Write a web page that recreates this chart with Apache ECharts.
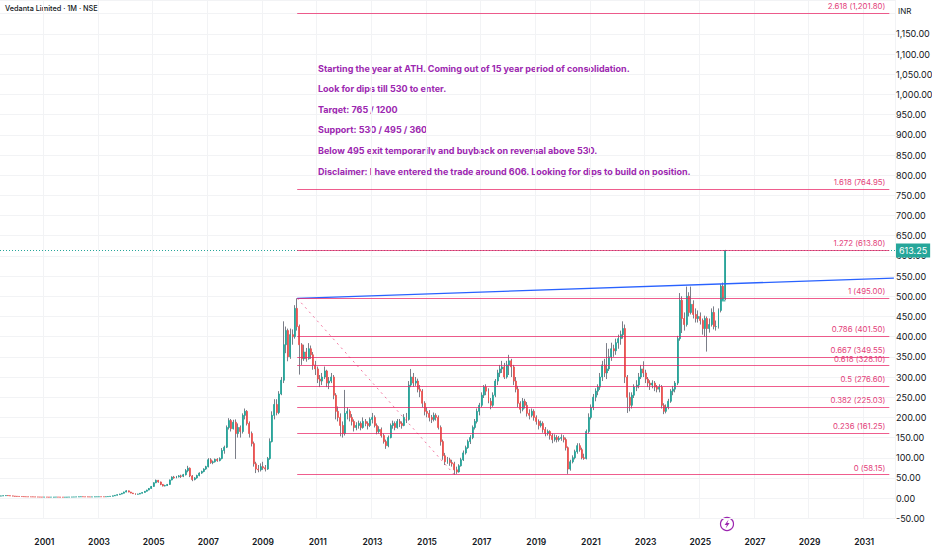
<!DOCTYPE html>
<html>
<head>
<meta charset="utf-8">
<title>Vedanta Limited · 1M · NSE</title>
<script src="https://cdn.jsdelivr.net/npm/echarts@6.0.0/dist/echarts.min.js"></script>
<style>
html, body { margin: 0; padding: 0; background: #ffffff; }
#chart { width: 932px; height: 550px; }
</style>
</head>
<body>
<div id="chart"></div>
<script>
"use strict";

// monthly candles, [open, close, low, high], first one is 1999-06
var firstMonth = [1999, 6];
var monthCount = 393; // axis runs to 2032-02
var candles = [
    // 1999 (Jun-Dec)
    [5, 5.5, 4.8, 6], [5.5, 6, 5.2, 6.5], [6, 6.5, 5.8, 7], [6.5, 6, 5.6, 7], [6, 5.5, 5.2, 6.2], [5.5, 5, 4.8, 5.8], [5, 4.5, 4.2, 5.2],
    // 2000
    [4.5, 4.2, 3.9, 4.8], [4.2, 4, 3.7, 4.5], [4, 3.8, 3.5, 4.3], [3.8, 3.5, 3.2, 4], [3.5, 3.4, 3.1, 3.8], [3.4, 3.2, 3, 3.6],
    [3.2, 3.1, 2.9, 3.4], [3.1, 3, 2.8, 3.3], [3, 2.8, 2.6, 3.2], [2.8, 2.7, 2.5, 3], [2.7, 2.6, 2.4, 2.9], [2.6, 2.5, 2.3, 2.8],
    // 2001
    [2.5, 2.6, 2.3, 2.8], [2.6, 2.5, 2.3, 2.8], [2.5, 2.4, 2.2, 2.7], [2.4, 2.4, 2.2, 2.6], [2.4, 2.5, 2.3, 2.7], [2.5, 2.6, 2.4, 2.8],
    [2.6, 2.5, 2.3, 2.7], [2.5, 2.4, 2.2, 2.6], [2.4, 2.2, 2, 2.5], [2.2, 2.4, 2.1, 2.5], [2.4, 2.5, 2.3, 2.7], [2.5, 2.6, 2.4, 2.8],
    // 2002
    [2.6, 2.7, 2.5, 2.9], [2.7, 2.8, 2.6, 3], [2.8, 3, 2.7, 3.2], [3, 3.3, 2.9, 3.5], [3.3, 3.6, 3.2, 3.9], [3.6, 3.3, 3.1, 3.8],
    [3.3, 3.1, 2.9, 3.4], [3.1, 3, 2.8, 3.3], [3, 2.9, 2.7, 3.2], [2.9, 3, 2.8, 3.2], [3, 3.2, 2.9, 3.4], [3.2, 3.4, 3.1, 3.6],
    // 2003
    [3.4, 3.5, 3.2, 3.8], [3.5, 3.4, 3.2, 3.7], [3.4, 3.3, 3.1, 3.6], [3.3, 3.6, 3.2, 3.8], [3.6, 4, 3.5, 4.3], [4, 4.6, 3.9, 4.9],
    [4.6, 5.6, 4.5, 6], [5.6, 7, 5.4, 7.5], [7, 8.5, 6.8, 9], [8.5, 10, 8.2, 10.8], [10, 12, 9.6, 12.8], [12, 15, 11.8, 16],
    // 2004
    [15, 18, 14.5, 19.5], [18, 15, 14.5, 18.5], [15, 12.5, 12, 15.5], [12.5, 11, 10.5, 13], [11, 9.5, 8.5, 11.5], [9.5, 10, 9, 10.8],
    [10, 12, 9.8, 12.5], [12, 14, 11.8, 14.5], [14, 17, 13.8, 17.5], [17, 20, 16.5, 20.8], [20, 24, 19.5, 25], [24, 29, 23.5, 30],
    // 2005
    [29, 38, 28, 39], [38, 44, 37, 46], [44, 40, 38, 45], [40, 34, 32, 41], [34, 30, 29, 35], [30, 31, 29, 33],
    [31, 34, 30, 35], [34, 45, 33, 46], [45, 52, 44, 54], [52, 50, 48, 55], [50, 53, 49, 55], [53, 55, 51, 57],
    // 2006
    [55, 54, 50, 58], [54, 58, 52, 60], [58, 68, 56, 72], [68, 74, 64, 80], [74, 55, 52, 76], [55, 46, 42, 57],
    [46, 50, 44, 52], [50, 56, 48, 58], [56, 62, 54, 64], [62, 66, 60, 68], [66, 72, 64, 74], [72, 78, 70, 80],
    // 2007
    [78, 95, 76, 99], [95, 88, 85, 99], [88, 90, 84, 93], [90, 96, 88, 98], [96, 93, 90, 99], [93, 98, 91, 101],
    [98, 118, 96, 124], [118, 126, 110, 130], [126, 175, 124, 180], [175, 192, 170, 198], [192, 172, 165, 196], [172, 188, 170, 194],
    // 2008
    [188, 160, 97, 195], [160, 175, 150, 185], [175, 165, 150, 180], [165, 205, 160, 210], [205, 215, 195, 222], [215, 185, 180, 218],
    [185, 160, 150, 190], [160, 135, 128, 165], [135, 85, 78, 140], [85, 72, 62, 90], [72, 70, 64, 82], [70, 78, 66, 86],
    // 2009
    [78, 75, 70, 90], [75, 72, 66, 82], [72, 98, 70, 102], [98, 140, 95, 148], [140, 205, 138, 215], [205, 232, 195, 245],
    [232, 212, 205, 245], [212, 258, 208, 265], [258, 292, 255, 300], [292, 380, 285, 438], [380, 415, 359, 425], [415, 350, 339, 420],
    // 2010
    [350, 405, 345, 420], [405, 400, 380, 418], [400, 470, 395, 478], [470, 425, 415, 495], [425, 380, 306, 430], [380, 345, 330, 384],
    [345, 362, 340, 380], [362, 345, 338, 372], [345, 370, 343, 384], [370, 355, 345, 378], [355, 330, 318, 362], [330, 320, 305, 340],
    // 2011
    [320, 295, 285, 326], [295, 290, 275, 305], [290, 300, 280, 310], [300, 315, 295, 326], [315, 285, 275, 318], [285, 290, 270, 300],
    [290, 300, 285, 310], [300, 255, 245, 305], [255, 215, 195, 260], [215, 200, 190, 227], [200, 180, 153, 210], [180, 160, 150, 190],
    // 2012
    [160, 210, 155, 268], [210, 215, 195, 225], [215, 200, 190, 220], [200, 190, 180, 208], [190, 175, 165, 195], [175, 180, 168, 188],
    [180, 185, 172, 192], [185, 175, 168, 190], [175, 190, 172, 200], [190, 185, 178, 196], [185, 180, 170, 190], [180, 195, 176, 200],
    // 2013
    [195, 200, 185, 211], [200, 180, 175, 205], [180, 165, 158, 185], [165, 170, 160, 178], [170, 155, 150, 175], [155, 140, 135, 160],
    [140, 130, 122, 145], [130, 150, 126, 155], [150, 180, 148, 185], [180, 185, 172, 192], [185, 175, 168, 190], [175, 190, 172, 196],
    // 2014
    [190, 185, 176, 196], [185, 180, 172, 190], [180, 200, 178, 208], [200, 195, 186, 211], [195, 280, 192, 290], [280, 300, 275, 320],
    [300, 285, 276, 310], [285, 290, 278, 300], [290, 270, 262, 296], [270, 265, 250, 280], [265, 235, 225, 270], [235, 215, 205, 240],
    // 2015
    [215, 210, 200, 225], [210, 200, 190, 218], [200, 195, 186, 206], [195, 205, 190, 212], [205, 200, 192, 210], [200, 175, 170, 205],
    [175, 140, 130, 180], [140, 105, 95, 145], [105, 90, 82, 112], [90, 95, 85, 102], [95, 88, 80, 100], [88, 85, 78, 95],
    // 2016
    [85, 70, 58.15, 90], [70, 65, 60, 78], [65, 80, 63, 84], [80, 95, 78, 100], [95, 112, 92, 118], [112, 125, 108, 130],
    [125, 140, 122, 145], [140, 150, 134, 156], [150, 175, 146, 180], [175, 190, 170, 196], [190, 215, 185, 222], [215, 230, 205, 236],
    // 2017
    [230, 255, 225, 262], [255, 275, 248, 280], [275, 265, 255, 282], [265, 240, 235, 272], [240, 230, 220, 248], [230, 255, 226, 262],
    [255, 290, 250, 295], [290, 310, 280, 318], [310, 320, 300, 330], [320, 325, 310, 340], [325, 300, 295, 335], [300, 330, 296, 340],
    // 2018
    [330, 340, 305, 355], [340, 325, 300, 345], [325, 290, 280, 330], [290, 270, 262, 300], [270, 235, 225, 278], [235, 220, 210, 240],
    [220, 240, 215, 248], [240, 230, 222, 246], [230, 210, 202, 238], [210, 205, 195, 220], [205, 215, 200, 222], [215, 200, 192, 220],
    // 2019
    [200, 190, 182, 205], [190, 180, 170, 195], [180, 185, 175, 192], [185, 170, 162, 190], [170, 160, 153, 176], [160, 165, 155, 170],
    [165, 155, 145, 168], [155, 145, 136, 160], [145, 150, 140, 158], [150, 145, 138, 156], [145, 148, 140, 154], [148, 150, 142, 158],
    // 2020
    [150, 145, 138, 156], [145, 125, 118, 150], [125, 72, 60, 128], [72, 90, 68, 95], [90, 100, 86, 106], [100, 115, 96, 120],
    [115, 130, 110, 136], [130, 120, 115, 136], [120, 100, 96, 125], [100, 98, 95, 110], [98, 165, 96, 170], [165, 200, 160, 210],
    // 2021
    [200, 225, 195, 232], [225, 250, 218, 258], [250, 265, 240, 272], [265, 275, 255, 282], [275, 300, 268, 310], [300, 330, 290, 340],
    [330, 310, 300, 345], [310, 320, 295, 384], [320, 350, 315, 370], [350, 370, 340, 385], [370, 365, 350, 380], [365, 385, 355, 395],
    // 2022
    [385, 395, 370, 405], [395, 405, 380, 415], [405, 420, 395, 438], [420, 300, 285, 430], [300, 250, 211, 305], [250, 230, 215, 262],
    [230, 255, 222, 262], [255, 275, 248, 282], [275, 280, 265, 292], [280, 300, 272, 310], [300, 320, 295, 330], [320, 310, 300, 339],
    // 2023
    [310, 295, 285, 318], [295, 285, 275, 300], [285, 280, 268, 292], [280, 285, 272, 292], [285, 275, 265, 290], [275, 270, 262, 280],
    [270, 275, 262, 282], [275, 230, 222, 280], [230, 215, 208, 235], [215, 225, 210, 232], [225, 240, 220, 246], [240, 265, 236, 270],
    // 2024
    [265, 270, 255, 278], [270, 285, 262, 290], [285, 395, 280, 402], [395, 490, 390, 508], [490, 445, 409, 500], [445, 430, 415, 460],
    [430, 500, 425, 524], [500, 460, 450, 510], [460, 480, 455, 524], [480, 455, 445, 490], [455, 445, 435, 470], [445, 450, 435, 465],
    // 2025
    [450, 440, 430, 460], [440, 420, 405, 445], [420, 445, 400, 452], [445, 420, 363, 450], [420, 430, 410, 445], [430, 460, 425, 470],
    [460, 425, 418, 475], [425, 425, 415, 440], [425, 465, 420, 470], [465, 525, 460, 530], [525, 495, 490, 534], [495, 613.25, 490, 615]
];
var lastPrice = 613.25;

// fibonacci retracement from the 2010 top to the 2016 low
var fibRatios = [0, 0.236, 0.382, 0.5, 0.618, 0.667, 0.786, 1, 1.272, 1.618, 2.618];
var fibValues = [58.15, 161.25, 225.03, 276.60, 328.10, 349.55, 401.50, 495.00, 613.80, 764.95, 1201.80];
var fibStart = '2010-04';
var fibEnd = '2031-12';
var fibSwing = [['2010-04', 495.00], ['2016-01', 58.15]];

// breakout trendline (ray from the 2010 top)
var trendLine = [['2010-04', 495], ['2032-02', 545]];
var markerPoint = [['2025-11', 493]];

var notes = [
    'Starting the year at ATH. Coming out of 15 year period of consolidation.',
    'Look for dips till 530 to enter.',
    'Target: 765 / 1200',
    'Support: 530 / 495 / 360',
    'Below 495 exit temporarily and buyback on reversal above 530.',
    'Disclaimer: I have entered the trade around 606. Looking for dips to build on position.'
];
var noteTops = [64, 84, 105, 125, 146, 167];

var months = [];
for (var i = 0; i < monthCount; i++) {
    var mm = firstMonth[1] - 1 + i;
    var y = firstMonth[0] + Math.floor(mm / 12);
    var m = (mm % 12) + 1;
    months.push(y + '-' + (m < 10 ? '0' + m : m));
}

function isYearTick(index, value) {
    return value.slice(5) === '01' && (+value.slice(0, 4)) % 2 === 1;
}

function money(v) {
    return v.toLocaleString('en-US', { minimumFractionDigits: 2, maximumFractionDigits: 2 });
}

var fontFamily = 'Inter, "Noto Sans", sans-serif';
var up = '#26a69a';
var down = '#ef5350';
var wick = '#7b7e88';
var fibColor = 'rgba(233, 30, 99, 0.72)';
var fibText = '#e3417a';

var fibLines = [];
for (var k = 0; k < fibValues.length; k++) {
    fibLines.push([
        { coord: [fibStart, fibValues[k]] },
        { coord: [fibEnd, fibValues[k]], name: fibRatios[k] + ' (' + money(fibValues[k]) + ')' }
    ]);
}

// body-only copy of each candle, drawn over the grey wicks
var bodies = candles.map(function (c) {
    return [c[0], c[1], Math.min(c[0], c[1]), Math.max(c[0], c[1])];
});

var noteGraphics = notes.map(function (t, j) {
    return {
        type: 'text',
        left: 318,
        top: noteTops[j],
        style: { text: t, fill: '#9c27b0', font: 'bold 9px ' + fontFamily }
    };
});

var dom = document.getElementById('chart');
var myChart = echarts.init(dom, null, { renderer: 'svg' });

var option = {
    animation: false,
    backgroundColor: '#ffffff',
    textStyle: { fontFamily: fontFamily },
    grid: { left: 0, right: 37, top: 0, bottom: 31.7, outerBoundsMode: 'none', containLabel: false },
    xAxis: {
        type: 'category',
        data: months,
        boundaryGap: true,
        axisLine: { show: false },
        axisTick: { show: false },
        axisLabel: {
            interval: isYearTick,
            formatter: function (v) { return v.slice(0, 4); },
            color: '#131722',
            fontSize: 8.5,
            fontWeight: 600,
            margin: 19
        },
        splitLine: { show: true, interval: isYearTick, lineStyle: { color: '#f2f3f5', width: 1 } }
    },
    yAxis: {
        type: 'value',
        position: 'right',
        min: -50,
        max: 1234,
        interval: 50,
        axisLine: { show: false },
        axisTick: { show: false },
        axisLabel: {
            color: '#131722',
            fontSize: 9,
            margin: 1,
            showMaxLabel: false,
            formatter: function (v) { return v > 1150 ? '' : money(v); }
        },
        splitLine: { lineStyle: { color: '#f2f3f5', width: 1 } }
    },
    series: [
        {
            name: 'wicks',
            type: 'candlestick',
            data: candles,
            barWidth: 0.6,
            itemStyle: { color: wick, color0: wick, borderColor: wick, borderColor0: wick, borderWidth: 1 },
            z: 1
        },
        {
            name: 'Vedanta',
            type: 'candlestick',
            data: bodies,
            barWidth: '65%',
            itemStyle: { color: up, color0: down, borderColor: up, borderColor0: down, borderWidth: 0.8 },
            markLine: {
                silent: true,
                symbol: ['none', 'none'],
                lineStyle: { type: [1, 2], color: up, width: 1 },
                label: {
                    show: true,
                    position: 'end',
                    distance: 1,
                    formatter: function () { return money(lastPrice); },
                    color: '#ffffff',
                    backgroundColor: up,
                    padding: [3, 3, 2, 3],
                    fontSize: 9
                },
                data: [{ yAxis: lastPrice }]
            },
            z: 2
        },
        {
            name: 'fib',
            type: 'line',
            data: [],
            z: 3,
            markLine: {
                silent: true,
                symbol: ['none', 'none'],
                lineStyle: { type: 'solid', color: fibColor, width: 1.2 },
                label: {
                    show: true,
                    position: 'insideEndTop',
                    formatter: '{b}',
                    color: fibText,
                    fontSize: 7.8,
                    distance: [4, 3]
                },
                data: fibLines
            }
        },
        {
            name: 'swing',
            type: 'line',
            data: fibSwing,
            symbol: 'none',
            z: 3,
            lineStyle: { type: [2, 4], color: 'rgba(233, 30, 99, 0.6)', width: 1 }
        },
        {
            name: 'trend',
            type: 'line',
            data: trendLine,
            symbol: 'none',
            z: 4,
            lineStyle: { color: '#2962ff', width: 1.3 }
        },
        {
            name: 'marker',
            type: 'scatter',
            data: markerPoint,
            symbol: 'triangle',
            symbolSize: 5,
            z: 5,
            itemStyle: { color: up }
        }
    ],
    graphic: [
        {
            type: 'text', left: 5, top: 5,
            style: { text: 'Vedanta Limited · 1M · NSE', fill: '#131722', font: '500 7.3px ' + fontFamily }
        },
        {
            type: 'text', left: 898, top: 7,
            style: { text: 'INR', fill: '#131722', font: '8px ' + fontFamily }
        },
        {
            type: 'circle',
            shape: { cx: 727, cy: 524, r: 6.5 },
            style: { fill: '#ffffff', stroke: '#9c27b0', lineWidth: 1.2 }
        },
        {
            type: 'polygon',
            shape: { points: [[728.6, 519.6], [724.6, 524.9], [726.9, 524.9], [725.6, 528.4], [729.6, 523.1], [727.3, 523.1]] },
            style: { fill: '#9c27b0' }
        }
    ].concat(noteGraphics)
};

if (option && typeof option === 'object') {
    myChart.setOption(option);
}
</script>
</body>
</html>
